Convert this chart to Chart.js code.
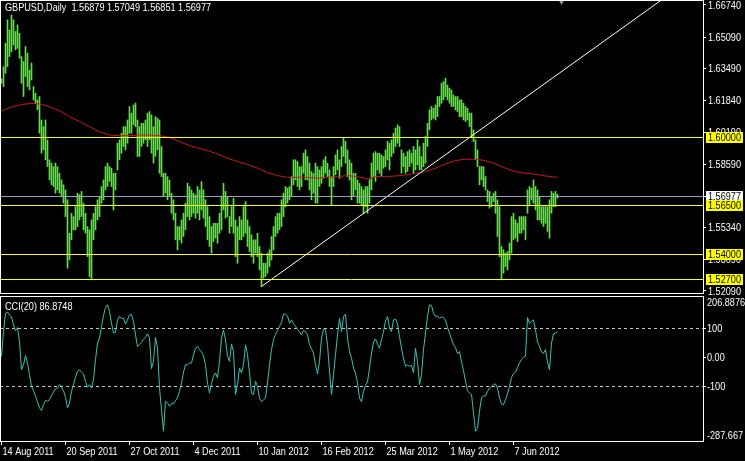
<!DOCTYPE html>
<html>
<head>
<meta charset="utf-8">
<script src="https://cdn.jsdelivr.net/npm/chart.js@4.4.1/dist/chart.umd.min.js"></script>
<style>
  html, body { margin: 0; padding: 0; background: #000; }
  #wrap { position: relative; width: 745px; height: 461px; background: #000; overflow: hidden; }
  #price { position: absolute; left: 0; top: 0; }
  #cci { position: absolute; left: 0; top: 296px; }
</style>
</head>
<body>
<div id="wrap">
  <canvas id="price" width="745" height="298"></canvas>
  <canvas id="cci" width="745" height="165"></canvas>
</div>
<script>
// GBPUSD daily bars, 14 Aug 2011 .. 3 Jul 2012 (one entry per bar)
const highs = [
  1.6295, 1.6358, 1.6478, 1.6598, 1.6546, 1.6623, 1.6598, 1.6538, 1.6572, 1.6529,
  1.6410, 1.6384, 1.6461, 1.6427, 1.6341, 1.6376, 1.6256, 1.6222, 1.6188, 1.6205,
  1.6085, 1.6051, 1.6085, 1.5983, 1.5881, 1.5864, 1.5846, 1.5864, 1.5846, 1.5812,
  1.5778, 1.5753, 1.5727, 1.5676, 1.5505, 1.5607, 1.5590, 1.5641, 1.5710, 1.5702,
  1.5719, 1.5659, 1.5607, 1.5539, 1.5522, 1.5573, 1.5607, 1.5641, 1.5676, 1.5693,
  1.5744, 1.5778, 1.5846, 1.5864, 1.5846, 1.5838, 1.5812, 1.5812, 1.5966, 1.5983,
  1.6017, 1.6051, 1.6051, 1.6085, 1.6154, 1.6120, 1.6162, 1.6171, 1.6085, 1.6051,
  1.6068, 1.6068, 1.6085, 1.6120, 1.6128, 1.6111, 1.6051, 1.6102, 1.6094, 1.6085,
  1.5949, 1.5812, 1.5812, 1.5795, 1.5778, 1.5710, 1.5676, 1.5607, 1.5539, 1.5539,
  1.5573, 1.5607, 1.5659, 1.5761, 1.5744, 1.5727, 1.5710, 1.5701, 1.5744, 1.5727,
  1.5770, 1.5727, 1.5676, 1.5641, 1.5590, 1.5539, 1.5556, 1.5556, 1.5556, 1.5607,
  1.5693, 1.5761, 1.5719, 1.5693, 1.5590, 1.5641, 1.5684, 1.5573, 1.5539, 1.5590,
  1.5573, 1.5641, 1.5667, 1.5573, 1.5539, 1.5497, 1.5471, 1.5471, 1.5505, 1.5437,
  1.5403, 1.5351, 1.5351, 1.5403, 1.5420, 1.5488, 1.5539, 1.5590, 1.5607, 1.5607,
  1.5676, 1.5710, 1.5744, 1.5736, 1.5744, 1.5795, 1.5881, 1.5881, 1.5872, 1.5846,
  1.5846, 1.5915, 1.5932, 1.5898, 1.5864, 1.5821, 1.5812, 1.5864, 1.5846, 1.5829,
  1.5846, 1.5881, 1.5898, 1.5864, 1.5829, 1.5795, 1.5846, 1.5906, 1.5932, 1.5881,
  1.5949, 1.5992, 1.5975, 1.5932, 1.5881, 1.5864, 1.5812, 1.5812, 1.5778, 1.5761,
  1.5744, 1.5727, 1.5744, 1.5744, 1.5778, 1.5864, 1.5915, 1.5923, 1.5915, 1.5915,
  1.5906, 1.5898, 1.5932, 1.5975, 1.5966, 1.5983, 1.6017, 1.6043, 1.6060, 1.6051,
  1.5932, 1.5915, 1.5898, 1.5923, 1.5932, 1.5915, 1.5949, 1.5932, 1.5983, 1.5949,
  1.5898, 1.5966, 1.6000, 1.6068, 1.6137, 1.6154, 1.6145, 1.6162, 1.6205, 1.6205,
  1.6273, 1.6282, 1.6299, 1.6264, 1.6247, 1.6239, 1.6213, 1.6205, 1.6205, 1.6188,
  1.6188, 1.6171, 1.6154, 1.6145, 1.6120, 1.6120, 1.6034, 1.5983, 1.5932, 1.5846,
  1.5846, 1.5846, 1.5795, 1.5727, 1.5719, 1.5693, 1.5710, 1.5719, 1.5676, 1.5641,
  1.5437, 1.5420, 1.5403, 1.5411, 1.5454, 1.5590, 1.5607, 1.5573, 1.5556, 1.5590,
  1.5590, 1.5590, 1.5590, 1.5727, 1.5744, 1.5736, 1.5778, 1.5744, 1.5727, 1.5693,
  1.5641, 1.5641, 1.5641, 1.5641, 1.5676, 1.5719, 1.5710, 1.5719, 1.5705
];
const lows = [
  1.6273, 1.6256, 1.6324, 1.6358, 1.6410, 1.6435, 1.6469, 1.6444, 1.6452, 1.6401,
  1.6273, 1.6205, 1.6307, 1.6256, 1.6239, 1.6290, 1.6188, 1.6171, 1.6137, 1.6017,
  1.5915, 1.5932, 1.5881, 1.5846, 1.5778, 1.5753, 1.5744, 1.5710, 1.5727, 1.5710,
  1.5693, 1.5659, 1.5590, 1.5326, 1.5368, 1.5471, 1.5522, 1.5522, 1.5539, 1.5573,
  1.5590, 1.5522, 1.5505, 1.5385, 1.5283, 1.5266, 1.5471, 1.5522, 1.5573, 1.5590,
  1.5659, 1.5676, 1.5727, 1.5744, 1.5770, 1.5744, 1.5624, 1.5727, 1.5829, 1.5881,
  1.5915, 1.5949, 1.5932, 1.5966, 1.6017, 1.6017, 1.6060, 1.6051, 1.5898, 1.5898,
  1.5949, 1.5966, 1.5983, 1.5949, 1.5983, 1.5915, 1.5864, 1.5898, 1.5932, 1.5812,
  1.5795, 1.5693, 1.5710, 1.5676, 1.5693, 1.5607, 1.5573, 1.5471, 1.5420, 1.5471,
  1.5454, 1.5488, 1.5522, 1.5590, 1.5573, 1.5590, 1.5607, 1.5582, 1.5607, 1.5573,
  1.5624, 1.5582, 1.5539, 1.5471, 1.5437, 1.5403, 1.5462, 1.5480, 1.5454, 1.5505,
  1.5522, 1.5624, 1.5582, 1.5590, 1.5505, 1.5539, 1.5505, 1.5385, 1.5351, 1.5471,
  1.5471, 1.5488, 1.5505, 1.5437, 1.5411, 1.5385, 1.5351, 1.5403, 1.5385, 1.5317,
  1.5232, 1.5275, 1.5283, 1.5300, 1.5334, 1.5368, 1.5420, 1.5488, 1.5505, 1.5522,
  1.5539, 1.5590, 1.5641, 1.5659, 1.5676, 1.5693, 1.5753, 1.5778, 1.5744, 1.5727,
  1.5744, 1.5812, 1.5778, 1.5778, 1.5727, 1.5676, 1.5710, 1.5659, 1.5659, 1.5744,
  1.5761, 1.5787, 1.5812, 1.5795, 1.5744, 1.5650, 1.5744, 1.5804, 1.5829, 1.5787,
  1.5846, 1.5898, 1.5864, 1.5795, 1.5778, 1.5676, 1.5693, 1.5727, 1.5659, 1.5659,
  1.5650, 1.5607, 1.5641, 1.5607, 1.5659, 1.5727, 1.5795, 1.5770, 1.5829, 1.5812,
  1.5795, 1.5838, 1.5846, 1.5881, 1.5829, 1.5898, 1.5915, 1.5949, 1.5966, 1.5949,
  1.5812, 1.5846, 1.5812, 1.5821, 1.5846, 1.5864, 1.5812, 1.5829, 1.5855, 1.5829,
  1.5829, 1.5846, 1.5864, 1.5949, 1.6034, 1.6085, 1.6094, 1.6085, 1.6102, 1.6154,
  1.6171, 1.6188, 1.6205, 1.6188, 1.6171, 1.6154, 1.6154, 1.6137, 1.6128, 1.6102,
  1.6102, 1.6085, 1.6077, 1.6085, 1.6051, 1.6000, 1.5975, 1.5881, 1.5846, 1.5753,
  1.5778, 1.5744, 1.5727, 1.5667, 1.5633, 1.5641, 1.5667, 1.5607, 1.5488, 1.5385,
  1.5266, 1.5300, 1.5334, 1.5317, 1.5368, 1.5403, 1.5471, 1.5480, 1.5462, 1.5505,
  1.5505, 1.5522, 1.5471, 1.5607, 1.5650, 1.5676, 1.5659, 1.5624, 1.5573, 1.5573,
  1.5556, 1.5539, 1.5556, 1.5514, 1.5480, 1.5607, 1.5641, 1.5641, 1.5685
];
// CCI(20), one value per bar
const cci = [
  3, 88, 151, 155, 146, 138, 111, 91, 102, 54,
  -43, -26, 6, -20, -60, -100, -115, -134, -153, -174,
  -183, -163, -148, -151, -146, -132, -120, -109, -106, -94,
  -102, -115, -138, -174, -157, -117, -94, -69, -48, -43,
  -51, -57, -83, -103, -94, -106, -77, -8, 49, 66,
  106, 143, 171, 180, 157, 117, 83, 85, 128, 140,
  134, 134, 114, 128, 146, 146, 123, 77, 37, 43,
  51, 62, 68, 81, 66, -39, -14, 68, 31, -106,
  -180, -254, -151, -157, -168, -159, -160, -149, -140, -117,
  -89, -51, -26, -26, -20, -20, 9, 31, 36, 26,
  18, 5, -26, -89, -123, -90, -65, -54, -71, -14,
  66, 94, 60, 3, -14, 45, 20, -128, -94, -37,
  -54, -26, 43, 9, -54, -123, -128, -83, -100, -140,
  -153, -146, -140, -88, -26, 26, 60, 79, 92, 106,
  120, 148, 148, 142, 117, 128, 115, 106, 95, 88,
  77, 92, 88, 77, 43, 29, 14, -26, -57, -14,
  66, 96, 94, 43, -48, -128, -60, 9, 77, 134,
  88, 140, 148, 66, 20, -3, -37, -54, -88, -140,
  -153, -117, -96, -85, -37, 14, 52, 63, 45, 31,
  60, 88, 123, 140, 100, 88, 128, 131, 114, 71,
  31, -3, -31, -26, -31, -28, -54, 31, -14, -94,
  -60, 26, 83, 140, 180, 178, 151, 140, 142, 134,
  139, 136, 128, 102, 83, 62, 43, 34, 13, 20,
  -16, -46, -83, -115, -123, -128, -191, -254, -245, -185,
  -140, -132, -134, -117, -106, -99, -93, -92, -106, -140,
  -160, -163, -146, -126, -100, -69, -56, -51, -35, -20,
  -7, -1, 3, 136, 117, 123, 128, 94, 52, 37,
  18, 14, 26, -16, -43, 49, 80, 83, 86.8748
];
// red moving average, sampled along the curve
const maBars = [0, 5, 10, 15, 19, 24, 29, 34, 39, 44, 49, 54, 59, 64, 69, 74, 79, 84, 89, 94,
  98, 103, 108, 113, 118, 123, 128, 133, 138, 143, 148, 153, 158, 163, 168, 173, 178, 183,
  187, 192, 197, 202, 207, 212, 217, 222, 227, 232, 237, 242, 247, 252, 257, 262, 267, 272, 278];
const maPrices = [1.6130, 1.6152, 1.6164, 1.6170, 1.6167, 1.6153, 1.6133, 1.6102, 1.6077, 1.6051,
  1.6025, 1.6008, 1.6005, 1.6005, 1.6008, 1.6008, 1.6005, 1.5996, 1.5974, 1.5954,
  1.5943, 1.5928, 1.5911, 1.5889, 1.5872, 1.5858, 1.5838, 1.5815, 1.5800, 1.5791,
  1.5791, 1.5791, 1.5786, 1.5791, 1.5795, 1.5800, 1.5795, 1.5783,
  1.5795, 1.5795, 1.5798, 1.5803, 1.5812, 1.5820, 1.5838, 1.5860, 1.5877, 1.5884,
  1.5884, 1.5877, 1.5860, 1.5838, 1.5820, 1.5812, 1.5807, 1.5798, 1.5791];

const trendBars = [130, 330];
const trendPrices = [1.5232, 1.6700];
const levels = [1.60000, 1.56500, 1.54000, 1.52700];
const bid = 1.56977;
const shiftBar = 280;

const priceTicks = [1.6674, 1.6509, 1.6349, 1.6184, 1.6019, 1.5859, 1.5694, 1.5534, 1.5369, 1.5209];
const priceMin = 1.51935, priceMax = 1.66996;
const cciTicks = [100, 0, -100];
const cciLevels = [100, -100];
const cciMin = -287.667, cciMax = 206.8876;
const dateBars = [0, 32, 64, 96, 128, 160, 192, 224, 256];
const dateLabels = ['14 Aug 2011', '20 Sep 2011', '27 Oct 2011', '4 Dec 2011', '10 Jan 2012',
  '16 Feb 2012', '25 Mar 2012', '1 May 2012', '7 Jun 2012'];
const xMin = -0.75, xMax = 350.75;

const FONT = "'Liberation Sans', Arial, sans-serif";
const FSIZE = 11;
const NARROW = 0.83; // terminal font is a narrow sans

function crisp(v) { return Math.round(v) + 0.5; }

function text(ctx, s, x, y, color) {
  ctx.save();
  ctx.font = FSIZE + 'px ' + FONT;
  ctx.textBaseline = 'middle';
  ctx.textAlign = 'left';
  ctx.fillStyle = color || '#ffffff';
  ctx.translate(x, y);
  ctx.scale(NARROW, 1);
  ctx.fillText(s, 0, 0);
  ctx.restore();
}

const pricePlugin = {
  id: 'priceDecor',
  afterDatasetsDraw(chart) {
    const { ctx, chartArea: a, scales: { y } } = chart;
    ctx.save();
    ctx.lineWidth = 1;
    ctx.strokeStyle = '#9aa0b4';
    const py = crisp(y.getPixelForValue(bid));
    ctx.beginPath(); ctx.moveTo(a.left, py); ctx.lineTo(a.right, py); ctx.stroke();
    ctx.strokeStyle = '#ffff00';
    levels.forEach(l => {
      const ly = crisp(y.getPixelForValue(l));
      ctx.beginPath(); ctx.moveTo(a.left, ly); ctx.lineTo(a.right, ly); ctx.stroke();
    });
    ctx.restore();
  },
  afterDraw(chart) {
    const { ctx, chartArea: a, scales: { y } } = chart;
    y.ticks.forEach(t => text(ctx, t.value.toFixed(5), a.right + 5, y.getPixelForValue(t.value) + 0.5));
    const box = (v, bg) => {
      const by = Math.round(y.getPixelForValue(v));
      ctx.fillStyle = bg;
      ctx.fillRect(a.right + 3, by - 5, 37, 11);
      text(ctx, v.toFixed(5), a.right + 5, by + 0.5, '#000000');
    };
    box(bid, '#ffffff');
    levels.forEach(l => box(l, '#ffff00'));
    ctx.save();
    ctx.strokeStyle = '#ffffff';
    ctx.lineWidth = 1;
    ctx.strokeRect(a.left + 0.5, a.top + 0.5, a.right - a.left, a.bottom - a.top - 1);
    ctx.restore();
    text(ctx, 'GBPUSD,Daily  1.56879 1.57049 1.56851 1.56977', 5, 8);
  }
};

const cciPlugin = {
  id: 'cciDecor',
  beforeDatasetsDraw(chart) {
    const { ctx, chartArea: a, scales: { y } } = chart;
    ctx.save();
    ctx.strokeStyle = '#c8c8c8';
    ctx.lineWidth = 1;
    ctx.setLineDash([3, 3]);
    cciLevels.forEach(l => {
      const ly = crisp(y.getPixelForValue(l));
      ctx.beginPath(); ctx.moveTo(a.left, ly); ctx.lineTo(a.right, ly); ctx.stroke();
    });
    ctx.restore();
  },
  afterDraw(chart) {
    const { ctx, chartArea: a, scales: { x, y } } = chart;
    ctx.save();
    ctx.strokeStyle = '#ffffff';
    ctx.lineWidth = 1;
    ctx.strokeRect(a.left + 0.5, a.top - 0.5, a.right - a.left, a.bottom - a.top + 1);
    ctx.restore();
    text(ctx, 'CCI(20) ' + cci[cci.length - 1].toFixed(4), 5, a.top + 10);
    y.ticks.forEach(t => text(ctx, t.value === 0 ? '0.00' : String(t.value), a.right + 4, y.getPixelForValue(t.value) + 0.5));
    text(ctx, cciMax.toFixed(4), a.right + 4, y.getPixelForValue(cciMax) + 6);
    text(ctx, cciMin.toFixed(3), a.right + 4, y.getPixelForValue(cciMin) - 5);
    x.ticks.forEach(t => text(ctx, dateLabels[dateBars.indexOf(t.value)], x.getPixelForValue(t.value) + 1, a.bottom + 11));
  }
};

function noPad(s) { s.paddingTop = 0; s.paddingBottom = 0; s.paddingLeft = 0; s.paddingRight = 0; }

new Chart(document.getElementById('price'), {
  type: 'bar',
  data: {
    datasets: [
      {
        type: 'bar',
        data: highs.map((h, i) => ({ x: i, y: [lows[i], h] })),
        backgroundColor: '#64de4c',
        borderWidth: 0,
        barThickness: 1,
        minBarLength: 1,
        grouped: false,
        order: 3
      },
      {
        type: 'line',
        data: maBars.map((b, i) => ({ x: b, y: maPrices[i] })),
        borderColor: '#cc1818',
        borderWidth: 1,
        pointRadius: 0,
        tension: 0,
        order: 2
      },
      {
        type: 'line',
        data: trendBars.map((b, i) => ({ x: b, y: trendPrices[i] })),
        borderColor: '#ffffff',
        borderWidth: 1,
        pointRadius: 0,
        order: 1
      },
      {
        type: 'line',
        data: [{ x: shiftBar, y: priceMax }],
        showLine: false,
        pointStyle: 'triangle',
        rotation: 180,
        pointRadius: 5,
        pointBackgroundColor: '#8c8c9c',
        pointBorderWidth: 0,
        clip: false,
        order: 0
      }
    ]
  },
  options: {
    responsive: false,
    devicePixelRatio: 1,
    animation: false,
    layout: { autoPadding: false, padding: { top: 0, bottom: 4, left: 0, right: 0 } },
    plugins: { legend: { display: false }, tooltip: { enabled: false } },
    scales: {
      x: { type: 'linear', min: xMin, max: xMax, offset: false, display: false, grid: { offset: false } },
      y: {
        position: 'right', min: priceMin, max: priceMax, beginAtZero: false,
        afterBuildTicks(s) { s.ticks = priceTicks.map(v => ({ value: v })); },
        afterFit(s) { s.width = 42; noPad(s); },
        ticks: { display: false },
        grid: { drawOnChartArea: false, drawTicks: true, tickLength: 3, color: '#ffffff' },
        border: { display: false }
      }
    }
  },
  plugins: [pricePlugin]
});

new Chart(document.getElementById('cci'), {
  type: 'line',
  data: {
    datasets: [{
      data: cci.map((v, i) => ({ x: i, y: v })),
      borderColor: '#3cc2b2',
      borderWidth: 1,
      pointRadius: 0,
      tension: 0
    }]
  },
  options: {
    responsive: false,
    devicePixelRatio: 1,
    animation: false,
    layout: { autoPadding: false, padding: { top: 1, bottom: 0, left: 0, right: 0 } },
    plugins: { legend: { display: false }, tooltip: { enabled: false } },
    scales: {
      x: {
        type: 'linear', min: xMin, max: xMax, offset: false,
        afterBuildTicks(s) { s.ticks = dateBars.map(v => ({ value: v })); },
        afterFit(s) { s.height = 20; noPad(s); },
        ticks: { display: false },
        grid: { drawOnChartArea: false, drawTicks: true, tickLength: 4, color: '#ffffff' },
        border: { display: false }
      },
      y: {
        position: 'right', min: cciMin, max: cciMax,
        afterBuildTicks(s) { s.ticks = cciTicks.map(v => ({ value: v })); },
        afterFit(s) { s.width = 42; noPad(s); },
        ticks: { display: false },
        grid: { drawOnChartArea: false, drawTicks: true, tickLength: 3, color: '#ffffff' },
        border: { display: false }
      }
    }
  },
  plugins: [cciPlugin]
});
</script>
</body>
</html>
